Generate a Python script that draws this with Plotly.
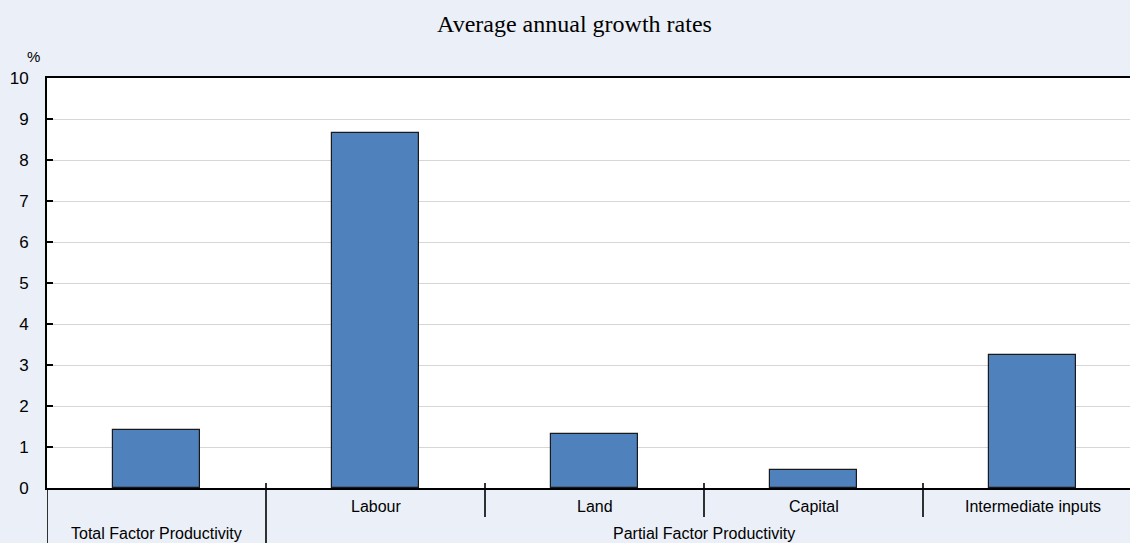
import plotly.graph_objects as go

# Average annual growth rates, %
categories = ["Total Factor Productivity", "Labour", "Land", "Capital", "Intermediate inputs"]
values = [1.41, 8.65, 1.32, 0.45, 3.24]

# Two-level category axis: inner labels and outer groups (first index, last index)
inner_labels = ["", "Labour", "Land", "Capital", "Intermediate inputs"]
groups = [("Total Factor Productivity", 0, 0), ("Partial Factor Productivity", 1, 4)]

y_ticks = list(range(0, 11))

W, H = 1130, 543
M_L, M_R, M_T, M_B = 47, 0, 78, 55
plot_h = H - M_T - M_B
cat_px = 219  # pixel width of one category band
x_lo = -0.5
x_hi = x_lo + (W - M_L - M_R) / cat_px

BG = "#EBEFF7"
BAR = "#4F81BD"
FONT = "Liberation Sans, Arial, sans-serif"
LABEL_SIZE = 16


def py(px):
    """Pixel offset from the top of the figure -> paper y coordinate."""
    return (H - M_B - px) / plot_h


fig = go.Figure(
    go.Bar(
        x=list(range(len(categories))),
        y=values,
        width=0.4,
        marker=dict(color=BAR, line=dict(color="#1a1a1a", width=1.2)),
        hoverinfo="y",
    )
)

shapes = []
annotations = []

# Inner category labels
for i, lab in enumerate(inner_labels):
    if lab:
        annotations.append(dict(x=i, y=py(506), xref="x", yref="paper", text=lab,
                                showarrow=False, font=dict(size=LABEL_SIZE, color="#000"),
                                xanchor="center", yanchor="middle"))

# Separators between inner categories; group boundaries run to the bottom edge
outer_edges = set()
for name, a, b in groups:
    outer_edges.add(a - 0.5)
    outer_edges.add(b + 0.5)
for i in range(len(categories) - 1):
    edge = i + 0.5
    bottom = py(543) if edge in outer_edges else py(517)
    shapes.append(dict(type="line", xref="x", yref="paper", x0=edge, x1=edge,
                       y0=py(483), y1=bottom, line=dict(color="#000", width=1.6)))

# Left axis line continued down through the label area
shapes.append(dict(type="line", xref="x", yref="paper", x0=x_lo, x1=x_lo,
                   y0=0, y1=py(543), line=dict(color="#000", width=1.6)))

# Outer group labels
for name, a, b in groups:
    annotations.append(dict(x=(a + b) / 2, y=py(533), xref="x", yref="paper", text=name,
                            showarrow=False, font=dict(size=LABEL_SIZE, color="#000"),
                            xanchor="center", yanchor="middle"))

# Unit label above the value axis
annotations.append(dict(x=(33 - M_L) / (W - M_L - M_R), y=py(57), xref="paper", yref="paper",
                        text="%", showarrow=False, font=dict(size=15, color="#000"),
                        xanchor="center", yanchor="middle"))

fig.update_layout(
    width=W, height=H,
    margin=dict(l=M_L, r=M_R, t=M_T, b=M_B, pad=0),
    paper_bgcolor=BG,
    plot_bgcolor="#FFFFFF",
    showlegend=False,
    bargap=0,
    font=dict(family=FONT, size=LABEL_SIZE, color="#000"),
    title=dict(text="Average annual growth rates",
               font=dict(family="Liberation Serif, Times New Roman, serif", size=24, color="#000"),
               x=574.5 / W, xanchor="center", y=1 - 24 / H, yanchor="middle"),
    xaxis=dict(range=[x_lo, x_hi], showticklabels=False, ticks="", showgrid=False,
               zeroline=False, showline=True, mirror=True, linecolor="#000", linewidth=2),
    yaxis=dict(range=[0, 10], tickvals=y_ticks, ticks="inside", ticklen=6, tickwidth=1.6,
               tickcolor="#000", showgrid=True, gridcolor="#D6D6D6", gridwidth=1,
               zeroline=False, showline=True, linecolor="#000", linewidth=2,
               ticklabelstandoff=13, tickfont=dict(size=17)),
    shapes=shapes,
    annotations=annotations,
)

fig.write_html("out.html")
